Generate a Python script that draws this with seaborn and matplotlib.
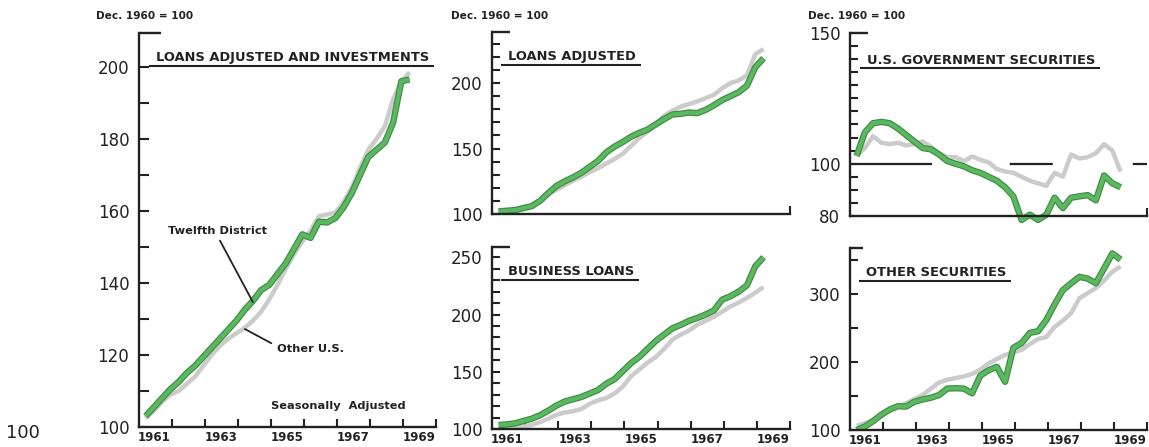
import matplotlib.pyplot as plt
import matplotlib.patheffects as pe
import pandas as pd
import seaborn as sns

# ================= DATA (Dec. 1960 = 100) =================
dates = [1961.2, 1961.45, 1961.7, 1961.95, 1962.2, 1962.45, 1962.7, 1962.95,
         1963.2, 1963.45, 1963.7, 1963.95, 1964.2, 1964.45, 1964.7, 1964.95,
         1965.2, 1965.45, 1965.7, 1965.95, 1966.2, 1966.45, 1966.7, 1966.95,
         1967.2, 1967.45, 1967.7, 1967.95, 1968.2, 1968.45, 1968.7, 1968.95,
         1969.2]

loans_inv_12th = [103, 105.5, 108, 110.5, 112.5, 115, 117, 119.5,
                  122, 124.5, 127, 129.5, 132.5, 135, 138, 139.5,
                  142.5, 145.5, 149.5, 153.5, 152.5, 157, 156.8, 158,
                  161, 165, 170, 175, 177, 179, 184.5, 196, 196.5]
loans_inv_us = [102.5, 104.5, 107, 109, 110, 112, 114, 117,
                120, 122.5, 124.5, 126, 127.5, 129.5, 132, 135.5,
                139.5, 144, 148, 151.5, 154.5, 158.5, 159, 159.5,
                162.5, 166.5, 172, 177, 180, 183.5, 191, 196, 198.5]

loans_adj_12th = [102, 102.5, 103, 104.5, 106, 110, 116, 121.5,
                  125, 128, 131.5, 136, 140.5, 147, 151.5, 155,
                  159, 162, 164.5, 168.5, 172.5, 176, 176.5, 177.5,
                  177, 179.5, 183, 187, 190, 193, 198, 212, 219]
loans_adj_us = [102, 102.5, 103.5, 105, 106.5, 110, 115, 118.5,
                122, 125.5, 128.5, 132, 135, 138.5, 142, 146,
                152, 158, 163, 169, 175, 179, 182, 184,
                186, 188.5, 191, 196, 200, 202, 206, 222, 226]

business_12th = [103.5, 104, 105, 107, 109, 112, 116, 120.5,
                 124, 126, 128, 131, 134, 139.5, 143.5, 150.5,
                 157.5, 163, 170, 177, 182.5, 188, 191, 194.5,
                 197, 200, 203.5, 213, 216, 220, 225.5, 242, 250]
business_us = [102, 102, 102, 102, 103.5, 106, 109, 112.5,
               114.5, 115.5, 117.5, 122, 125, 127, 131, 137,
               146, 152, 158, 163, 170, 178, 182.5, 186,
               191, 194.5, 198, 202.5, 207, 210.5, 214.5, 219, 224]

govt_12th = [103, 112, 115.5, 116, 115.5, 113.5, 111, 108.5,
             106, 105.5, 103.5, 101, 100, 99, 97.5, 96.5,
             95, 93.5, 91, 87.5, 78.5, 80.5, 78.5, 80.5,
             87, 83, 87, 87.5, 88, 86, 95.5, 92.5, 91]
govt_us = [103, 106, 110.5, 108, 107.5, 108, 107, 107.5,
           108.5, 106.5, 104, 102.5, 102.5, 101, 102.8, 101.5,
           100.5, 98, 97, 96.5, 95, 93.5, 92.5, 91.5,
           96.5, 95, 103.5, 102, 102.5, 104, 107.5, 105, 97]

other_sec_12th = [100, 105, 113, 122.5, 130, 135, 134.5, 141.5,
                  145, 147.5, 151.5, 161, 161.5, 161, 154, 180,
                  188, 193, 171, 221, 228, 243, 245.5, 262,
                  285, 306, 316, 325.5, 323, 316, 338, 360, 351]
other_sec_us = [106, 110, 115, 122, 129.5, 134.5, 139.5, 145.5,
                151.5, 161, 170, 174, 176.5, 179, 182.5, 189,
                198, 204.5, 210.5, 214, 218, 226.5, 234, 237,
                252, 261, 272, 294, 301.5, 309, 320, 333, 341]

year_labels = ['1961', '1963', '1965', '1967', '1969']
year_label_pos = [1961.45, 1963.5, 1965.5, 1967.5, 1969.5]
year_ticks = [1962, 1963, 1964, 1965, 1966, 1967, 1968, 1969, 1970]

# ================= STYLE =================
sns.set_style('white')
plt.rcParams['font.family'] = ['DejaVu Sans']
plt.rcParams['lines.scale_dashes'] = False

GREEN = '#5cb860'
GREEN_EDGE = '#3a8a40'
GREY = '#cbcbcb'
INK = '#222222'

fig = plt.figure(figsize=(11.49, 4.47), dpi=100)

W, H = 1149, 447


def px_axes(x0, y0, x1, y1):
    # pixel box (top-left origin) -> figure fractions
    return fig.add_axes([x0 / W, 1 - y1 / H, (x1 - x0) / W, (y1 - y0) / H])


ax_lai = px_axes(139, 33, 436, 427)
ax_la = px_axes(492, 32, 790, 214)
ax_bl = px_axes(492, 247, 790, 429)
ax_gs = px_axes(850, 33, 1147, 216)
ax_os = px_axes(850, 248, 1147, 430)


def draw_pair(ax, twelfth, other, clip=True):
    df = pd.DataFrame({'date': dates, 'twelfth': twelfth, 'other': other})
    sns.lineplot(data=df, x='date', y='other', ax=ax, color=GREY, lw=3.2,
                 solid_joinstyle='round', solid_capstyle='butt', clip_on=clip)
    sns.lineplot(data=df, x='date', y='twelfth', ax=ax, color=GREEN, lw=3.0,
                 solid_joinstyle='round', solid_capstyle='butt', clip_on=clip,
                 path_effects=[pe.Stroke(linewidth=4.6, foreground=GREEN_EDGE),
                               pe.Normal()])


def style_axes(ax, ylim, major, minor, bottom_labels=True, cap=0.06,
               ytick_len=6):
    ax.set_xlim(1961, 1970)
    ax.set_ylim(*ylim)
    ax.set_xlabel('')
    ax.set_ylabel('')
    for s in ['top', 'right']:
        ax.spines[s].set_visible(False)
    for s in ['left', 'bottom']:
        ax.spines[s].set_color(INK)
        ax.spines[s].set_linewidth(1.7)
    ax.set_yticks(major)
    ax.set_yticks(minor, minor=True)
    ax.set_yticklabels([str(v) for v in major])
    ax.tick_params(axis='y', which='both', left=True, direction='in',
                   length=ytick_len, width=1.5, color=INK, labelsize=12,
                   labelcolor=INK, pad=7)
    if bottom_labels:
        ax.set_xticks(year_ticks)
        ax.set_xticklabels([''] * len(year_ticks))
        ax.set_xticks(year_label_pos, minor=True)
        ax.set_xticklabels(year_labels, minor=True)
        for lbl in ax.get_xticklabels(minor=True):
            lbl.set_fontweight('bold')
    else:
        ax.set_xticks([1970])
        ax.set_xticklabels([''])
    ax.tick_params(axis='x', which='major', bottom=True, direction='in',
                   length=5.5, width=1.5, color=INK)
    ax.tick_params(axis='x', which='minor', bottom=True, length=0,
                   labelsize=8.5, labelcolor=INK, pad=3)
    # short cap at the top of the value axis
    ax.plot([0, cap], [1, 1], transform=ax.transAxes, color=INK, lw=1.7,
            clip_on=False, solid_capstyle='butt')


draw_pair(ax_lai, loans_inv_12th, loans_inv_us)
style_axes(ax_lai, (100, 209.4), [100, 120, 140, 160, 180, 200],
           [110, 130, 150, 170, 190], cap=0.074, ytick_len=7.5)

draw_pair(ax_la, loans_adj_12th, loans_adj_us)
style_axes(ax_la, (100, 239), [100, 150, 200],
           [110, 120, 130, 140, 160, 170, 180, 190, 210, 220, 230],
           bottom_labels=False)

draw_pair(ax_bl, business_12th, business_us)
style_axes(ax_bl, (100, 259), [100, 150, 200, 250],
           [110, 120, 130, 140, 160, 170, 180, 190, 210, 220, 230, 240])

# broken reference line at 100 (dash pattern in points)
ax_gs.axhline(100, color=INK, lw=1.6, zorder=1,
              linestyle=(0, (59, 56, 31, 57.6)))
draw_pair(ax_gs, govt_12th, govt_us, clip=False)
style_axes(ax_gs, (80, 150), [80, 100, 150],
           [85, 90, 95, 105, 110, 115, 120, 125, 130, 135, 140, 145],
           bottom_labels=False)

draw_pair(ax_os, other_sec_12th, other_sec_us)
style_axes(ax_os, (100, 368), [100, 200, 300], [150, 250, 350], cap=0.045)

for ax in [ax_lai, ax_la, ax_bl, ax_gs, ax_os]:
    if ax.get_legend() is not None:
        ax.get_legend().remove()

# ================= TEXT =================
titles = [(ax_lai, 'LOANS ADJUSTED AND INVESTMENTS', 0.057, 0.937),
          (ax_la, 'LOANS ADJUSTED', 0.054, 0.863),
          (ax_bl, 'BUSINESS LOANS', 0.054, 0.863),
          (ax_gs, 'U.S. GOVERNMENT SECURITIES', 0.057, 0.852),
          (ax_os, 'OTHER SECURITIES', 0.054, 0.863)]
title_texts = []
for ax, label, tx, ty in titles:
    t = ax.text(tx, ty, label, transform=ax.transAxes, ha='left', va='center',
                fontsize=9.4, fontweight='bold', color=INK)
    title_texts.append((ax, t))

for xpix, label in [(145, 'Dec. 1960 = 100'), (500, 'Dec. 1960 = 100'),
                    (857, 'Dec. 1960 = 100')]:
    fig.text(xpix / W, 1 - 16 / H, label, ha='center', va='center',
             fontsize=7.6, fontweight='bold', color=INK)

fig.text(22.5 / W, 1 - 433 / H, '100', ha='center', va='center',
         fontsize=13, color=INK)

ax_lai.annotate('Twelfth District', xy=(1964.45, 134.7), xytext=(1963.38, 154.4),
                ha='center', va='center', fontsize=8.2, fontweight='bold',
                color=INK,
                arrowprops=dict(arrowstyle='-', color=INK, lw=1.3,
                                relpos=(0.5, 0), shrinkA=1, shrinkB=0))
ax_lai.annotate('Other U.S.', xy=(1964.21, 127.2), xytext=(1966.2, 121.7),
                ha='center', va='center', fontsize=8.2, fontweight='bold',
                color=INK,
                arrowprops=dict(arrowstyle='-', color=INK, lw=1.3,
                                relpos=(0, 0.75), shrinkA=2, shrinkB=0))
ax_lai.text(0.672, 0.053, 'Seasonally  Adjusted', transform=ax_lai.transAxes,
            ha='center', va='center', fontsize=8.2, fontweight='bold',
            color=INK)

# underline each panel title, a little wider than the words
fig.canvas.draw()
renderer = fig.canvas.get_renderer()
for ax, t in title_texts:
    bb = t.get_window_extent(renderer)
    yc = (bb.y0 + bb.y1) / 2 - 8
    inv = ax.transAxes.inverted()
    (ax0, ay), (ax1, _) = inv.transform([(bb.x0 - 7, yc), (bb.x1 + 5, yc)])
    ax.plot([ax0, ax1], [ay, ay], transform=ax.transAxes, color=INK, lw=1.5,
            clip_on=False, solid_capstyle='butt')

fig.savefig('out.png', dpi=100)
plt.close(fig)
